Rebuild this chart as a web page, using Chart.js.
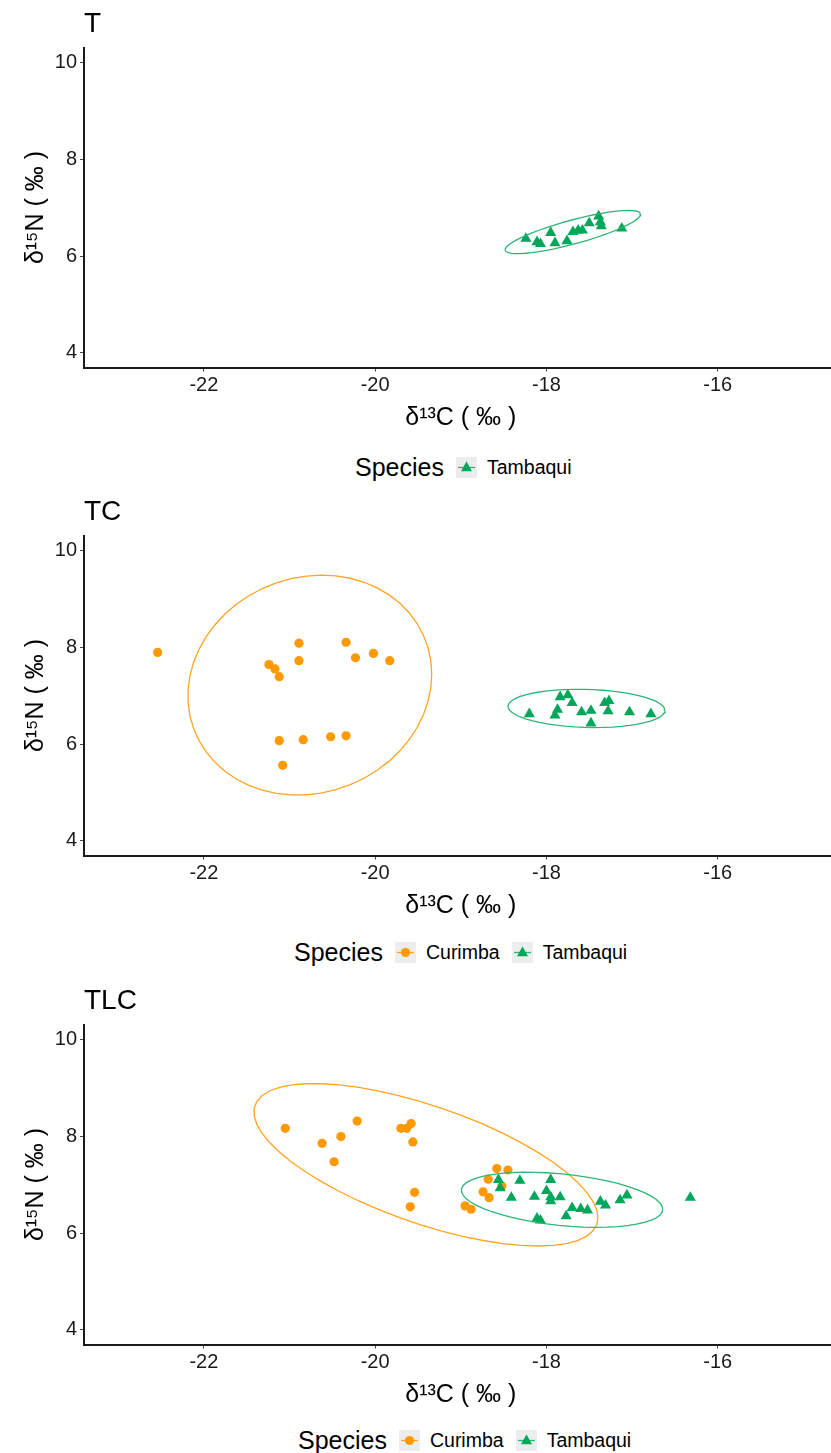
<!DOCTYPE html>
<html>
<head>
<meta charset="utf-8">
<script src="https://cdn.jsdelivr.net/npm/chart.js@4.4.1/dist/chart.umd.min.js"></script>
<style>
html,body{margin:0;padding:0;background:#fff;}
body{width:831px;height:1453px;overflow:hidden;position:relative;font-family:"Liberation Sans",Arial,sans-serif;}
.panel{position:absolute;left:0;width:831px;height:440px;overflow:hidden;}
.legend{position:absolute;display:flex;align-items:center;height:30px;color:#000;white-space:nowrap;}
.legend .ttl{font-size:25px;margin-right:12px;}
.legend svg{display:block;margin-right:10px;}
.legend .lab{font-size:19.5px;margin-right:12px;}
</style>
</head>
<body>
<div class="panel" style="top:0px"><canvas id="c1" width="844" height="440"></canvas></div>
<div class="panel" style="top:488px"><canvas id="c2" width="844" height="440"></canvas></div>
<div class="panel" style="top:977px"><canvas id="c3" width="844" height="440"></canvas></div>
<div id="lg1" class="legend" style="left:355px;top:452px"></div>
<div id="lg2" class="legend" style="left:294px;top:937px"></div>
<div id="lg3" class="legend" style="left:298px;top:1425px"></div>
<script>
// ---------- data ----------
const xTicks = [-22, -20, -18, -16];
const yTicks = [4, 6, 8, 10];
const panelTitles = ['T', 'TC', 'TLC'];
const legendTitle = 'Species';
const xTitle = 'δ¹³C ( ‰ )';
const yTitle = 'δ¹⁵N ( ‰ )';

// Panel T
const T_tambaqui_d13C = [-18.24, -18.11, -18.07, -17.95, -17.90, -17.76, -17.69, -17.63, -17.58, -17.50, -17.39, -17.37, -17.36, -17.12];
const T_tambaqui_d15N = [6.36, 6.29, 6.25, 6.48, 6.27, 6.31, 6.50, 6.53, 6.53, 6.68, 6.82, 6.70, 6.62, 6.57];

// Panel TC
const TC_curimba_d13C = [-22.54, -21.24, -21.17, -21.12, -20.89, -20.89, -20.34, -20.23, -20.02, -19.83, -21.12, -20.84, -20.52, -20.34, -21.08];
const TC_curimba_d15N = [7.89, 7.64, 7.55, 7.39, 8.08, 7.72, 8.10, 7.78, 7.87, 7.72, 6.07, 6.09, 6.15, 6.17, 5.56];
const TC_tambaqui_d13C = [-18.20, -17.90, -17.87, -17.84, -17.75, -17.70, -17.59, -17.48, -17.48, -17.32, -17.27, -17.28, -17.03, -16.78];
const TC_tambaqui_d15N = [6.62, 6.59, 6.71, 6.97, 7.01, 6.85, 6.66, 6.69, 6.43, 6.85, 6.89, 6.68, 6.66, 6.62];

// Panel TLC
const TLC_curimba_d13C = [-21.05, -20.62, -20.40, -20.21, -20.48, -19.70, -19.63, -19.58, -19.56, -19.54, -19.59, -18.95, -18.88, -18.58, -18.45, -18.68, -18.74, -18.67, -18.52];
const TLC_curimba_d15N = [8.16, 7.85, 7.99, 8.31, 7.47, 8.16, 8.16, 8.26, 7.88, 6.84, 6.54, 6.56, 6.49, 7.33, 7.30, 7.11, 6.85, 6.73, 6.97];
const TLC_tambaqui_d13C = [-18.56, -18.54, -18.31, -18.41, -18.14, -18.00, -17.95, -17.95, -17.95, -17.84, -17.70, -17.60, -17.52, -17.37, -17.31, -17.14, -17.06, -16.32, -18.11, -18.07, -17.77];
const TLC_tambaqui_d15N = [7.10, 6.93, 7.08, 6.73, 6.75, 6.87, 7.10, 6.74, 6.66, 6.74, 6.52, 6.50, 6.47, 6.65, 6.57, 6.68, 6.78, 6.73, 6.30, 6.26, 6.35];

// ---------- styles ----------
const FONT = '"Liberation Sans", Arial, sans-serif';
const STYLE = {
  Curimba:  { color: '#FF9900', line: '#FFA41F', pointStyle: 'circle',   radius: 4.6 },
  Tambaqui: { color: '#00A65A', line: '#2BB673', pointStyle: 'triangle', radius: 6.4 }
};

// stat_ellipse (type "t", level 0.95) computed from the data, as ggplot2 does
function statEllipse(xs, ys, level, segments) {
  const n = xs.length, p = 2, nu = 5;
  let w = new Array(n).fill(1);
  let loc = [xs.reduce((a, b) => a + b, 0) / n, ys.reduce((a, b) => a + b, 0) / n];
  let X = null;
  for (let iter = 0; iter < 25; iter++) {
    const w0 = w.slice();
    X = xs.map((x, i) => [x - loc[0], ys[i] - loc[1]]);
    const s = w.reduce((a, b) => a + b, 0);
    let a = 0, b = 0, c = 0;
    for (let i = 0; i < n; i++) {
      const f = w[i] / s;
      a += f * X[i][0] * X[i][0];
      b += f * X[i][0] * X[i][1];
      c += f * X[i][1] * X[i][1];
    }
    const det = a * c - b * b;
    const Q = X.map(([u, v]) => (c * u * u - 2 * b * u * v + a * v * v) / det);
    w = Q.map(q => (nu + p) / (nu + q));
    const sw = w.reduce((m, k) => m + k, 0);
    loc = [0, 1].map(k => w.reduce((m, wi, i) => m + wi * (k === 0 ? xs[i] : ys[i]), 0) / sw);
    if (w.every((wi, i) => Math.abs(wi - w0[i]) < 0.01)) break;
  }
  let a = 0, b = 0, c = 0;
  for (let i = 0; i < n; i++) {
    a += w[i] * X[i][0] * X[i][0];
    b += w[i] * X[i][0] * X[i][1];
    c += w[i] * X[i][1] * X[i][1];
  }
  a /= n; b /= n; c /= n;
  const r11 = Math.sqrt(a), r12 = b / r11, r22 = Math.sqrt(c - r12 * r12);
  const d = n - 1;
  const qf = (d / 2) * (Math.pow(1 - level, -2 / d) - 1);
  const radius = Math.sqrt(2 * qf);
  const out = [];
  for (let k = 0; k <= segments; k++) {
    const t = k * 2 * Math.PI / segments;
    const ct = Math.cos(t), st = Math.sin(t);
    out.push({ x: loc[0] + radius * ct * r11, y: loc[1] + radius * (ct * r12 + st * r22) });
  }
  return out;
}

function makeChart(id, titleText, groups) {
  const datasets = [];
  groups.forEach((g, gi) => {
    const st = STYLE[g.name];
    datasets.push({
      label: g.name + ' ellipse',
      data: statEllipse(g.xs, g.ys, 0.95, 51),
      showLine: true, pointRadius: 0, borderColor: st.line, borderWidth: 1.3,
      fill: false, tension: 0, order: 1 - gi
    });
  });
  groups.forEach((g, gi) => {
    const st = STYLE[g.name];
    datasets.push({
      label: g.name,
      data: g.xs.map((x, i) => ({ x: x, y: g.ys[i] })),
      showLine: false, pointStyle: st.pointStyle, pointRadius: st.radius,
      backgroundColor: st.color, borderColor: st.color, borderWidth: 0,
      order: 3 - gi
    });
  });
  new Chart(document.getElementById(id), {
    type: 'scatter',
    data: { datasets },
    options: {
      responsive: false, animation: false, devicePixelRatio: 1,
      layout: { padding: { left: 0, right: 0, top: 0, bottom: 0 } },
      plugins: {
        legend: { display: false },
        tooltip: { enabled: false },
        title: {
          display: true, text: titleText, align: 'start', fullSize: false,
          color: '#000', font: { family: FONT, size: 28, weight: 'normal' },
          padding: { top: 7, bottom: 7 }
        }
      },
      scales: {
        x: {
          type: 'linear', position: 'bottom', min: -23.4, max: -14.6,
          afterBuildTicks: s => { s.ticks = xTicks.map(v => ({ value: v })); },
          afterFit: s => { s.height = 72.5; },
          ticks: { font: { family: FONT, size: 20 }, color: '#1a1a1a', padding: 1.5 },
          grid: { drawOnChartArea: false, drawTicks: true, tickLength: 4, tickColor: '#444', tickWidth: 1 },
          border: { display: true, color: '#1a1a1a', width: 2 },
          title: { display: true, text: xTitle, color: '#000', font: { family: FONT, size: 25 }, padding: { top: 0, bottom: 7 } }
        },
        y: {
          type: 'linear', position: 'left', min: 3.7, max: 10.3,
          afterBuildTicks: s => { s.ticks = yTicks.map(v => ({ value: v })); },
          afterFit: s => { s.width = 84; },
          ticks: { font: { family: FONT, size: 20 }, color: '#1a1a1a', padding: 3 },
          grid: { drawOnChartArea: false, drawTicks: true, tickLength: 4, tickColor: '#444', tickWidth: 1 },
          border: { display: true, color: '#1a1a1a', width: 2 },
          title: { display: true, text: yTitle, color: '#000', font: { family: FONT, size: 25 }, padding: { top: 21, bottom: 0 } }
        }
      }
    }
  });
}

function keySVG(name) {
  const st = STYLE[name];
  let mark;
  if (st.pointStyle === 'circle') {
    mark = `<circle cx="10.5" cy="10.5" r="${st.radius}" fill="${st.color}"/>`;
  } else {
    const r = st.radius, cx = 10.5, cy = 11;
    const pts = [0, 1, 2].map(k => {
      const a = k * 2 * Math.PI / 3;
      return (cx + Math.sin(a) * r).toFixed(2) + ',' + (cy - Math.cos(a) * r).toFixed(2);
    }).join(' ');
    mark = `<polygon points="${pts}" fill="${st.color}"/>`;
  }
  return `<svg width="21" height="21" viewBox="0 0 21 21"><rect width="21" height="21" fill="#EDEDED"/>` +
    `<line x1="2" y1="10.5" x2="19" y2="10.5" stroke="${st.line}" stroke-width="1.3"/>${mark}</svg>`;
}

function makeLegend(id, names) {
  let html = `<span class="ttl">${legendTitle}</span>`;
  names.forEach(n => { html += keySVG(n) + `<span class="lab">${n}</span>`; });
  document.getElementById(id).innerHTML = html;
}

makeChart('c1', panelTitles[0], [
  { name: 'Tambaqui', xs: T_tambaqui_d13C, ys: T_tambaqui_d15N }
]);
makeChart('c2', panelTitles[1], [
  { name: 'Curimba', xs: TC_curimba_d13C, ys: TC_curimba_d15N },
  { name: 'Tambaqui', xs: TC_tambaqui_d13C, ys: TC_tambaqui_d15N }
]);
makeChart('c3', panelTitles[2], [
  { name: 'Curimba', xs: TLC_curimba_d13C, ys: TLC_curimba_d15N },
  { name: 'Tambaqui', xs: TLC_tambaqui_d13C, ys: TLC_tambaqui_d15N }
]);
makeLegend('lg1', ['Tambaqui']);
makeLegend('lg2', ['Curimba', 'Tambaqui']);
makeLegend('lg3', ['Curimba', 'Tambaqui']);
</script>
</body>
</html>
